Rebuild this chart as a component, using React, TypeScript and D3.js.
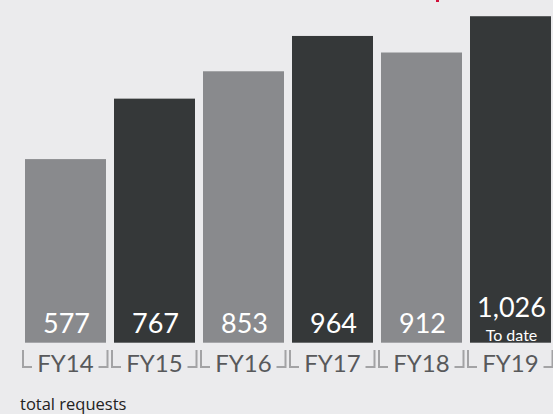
import React from "react";
import * as d3 from "d3";

const categories = ["FY14", "FY15", "FY16", "FY17", "FY18", "FY19"];
const values = [577, 767, 853, 964, 912, 1026];
const valueLabels = ["577", "767", "853", "964", "912", "1,026"];
const subLabels = ["", "", "", "", "", "To date"];
const shades = ["light", "dark", "light", "dark", "light", "dark"];
const footnote = "total requests";

const W = 553;
const H = 414;
const BG = "#ebebed";
const LIGHT = "#898a8d";
const DARK = "#353839";
const FONT = "Lato, 'Open Sans', sans-serif";

export default function App() {
  const x = d3
    .scaleBand<string>()
    .domain(categories)
    .range([21, 555])
    .paddingInner(8 / 89)
    .paddingOuter(4 / 89);
  const y = d3.scaleLinear().domain([0, 1077]).range([342.7, 0]);
  const bw = x.bandwidth();
  const boundaries = categories.map((c) => (x(c) as number) - 4);
  boundaries.push((x(categories[categories.length - 1]) as number) + bw + 4);

  const tickTop = 350;
  const tickBot = 368;
  const tickColor = "#a3a3a5";

  return (
    <svg
      width={W}
      height={H}
      style={{ position: "absolute", left: 0, top: 0, display: "block" }}
    >
      <rect x={0} y={0} width={W} height={H} fill={BG} />
      <rect x={436} y={0} width={3} height={2} fill="#d0103a" />
      {categories.map((c, i) => {
        const x0 = x(c) as number;
        const v = values[i];
        return (
          <g key={c}>
            <rect
              x={x0}
              y={y(v)}
              width={bw}
              height={y(0) - y(v)}
              fill={shades[i] === "dark" ? DARK : LIGHT}
            />
            <text
              x={x0 + bw / 2 + 1}
              y={subLabels[i] ? 316.7 : 333.3}
              textAnchor="middle"
              fill="#ffffff"
              fontFamily={FONT}
              fontSize={27}
            >
              {valueLabels[i]}
            </text>
            {subLabels[i] && (
              <text
                x={x0 + bw / 2 + 1}
                y={341}
                textAnchor="middle"
                fill="#ffffff"
                fontFamily={FONT}
                fontSize={16}
              >
                {subLabels[i]}
              </text>
            )}
            <text
              x={x0 + bw / 2}
              y={371.7}
              textAnchor="middle"
              fill="#58595b"
              fontFamily={FONT}
              fontSize={24}
            >
              {c}
            </text>
          </g>
        );
      })}
      {boundaries.map((b, i) => (
        <g key={"b" + i} stroke={tickColor} strokeWidth={2} fill="none">
          {i > 0 && (
            <path
              d={`M${b - 2.5},${tickTop}V${tickBot - 1}H${b - 2.5 - 9}`}
            />
          )}
          {i < boundaries.length - 1 && (
            <path
              d={`M${b + 2},${tickTop}V${tickBot - 1}H${b + 2 + 9}`}
            />
          )}
        </g>
      ))}
      <text
        x={20}
        y={410}
        fill="#222222"
        fontFamily="'Open Sans', sans-serif"
        fontSize={16.5}
      >
        {footnote}
      </text>
    </svg>
  );
}
